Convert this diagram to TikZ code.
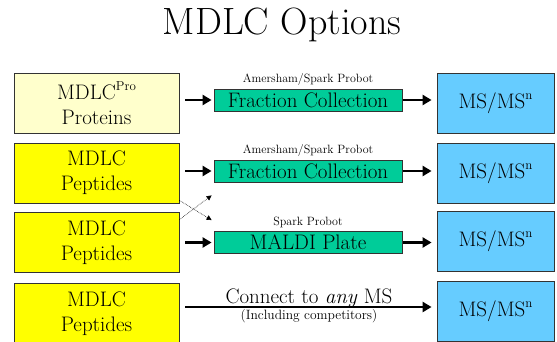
\documentclass[tikz,border=0pt]{standalone}
\usetikzlibrary{arrows.meta}
\definecolor{lightyel}{HTML}{FFFFCC}
\definecolor{yel}{HTML}{FFFF00}
\definecolor{grn}{HTML}{00CC99}
\definecolor{blu}{HTML}{66CCFF}
\newcommand{\mysup}[1]{\raisebox{0.42em}{\fontsize{13}{13}\selectfont #1}}
\begin{document}
\begin{tikzpicture}[x=1pt,y=-1pt,
 src/.style={draw=black!80, line width=0.8pt, minimum width=165pt, minimum height=60pt, align=center, font=\fontsize{21}{25}\selectfont, inner sep=0pt},
 dev/.style={draw=black!80, line width=0.8pt, fill=grn, minimum width=188pt, minimum height=22pt, inner sep=0pt, font=\fontsize{21}{24}\selectfont},
 ms/.style={draw=black!80, line width=0.8pt, fill=blu, minimum width=117pt, minimum height=60pt, inner sep=0pt, font=\fontsize{21}{25}\selectfont},
 lab/.style={font=\fontsize{12}{14}\selectfont, anchor=base, inner sep=0pt},
 bigarrow/.style={line width=2.5pt, -{Triangle[length=9pt,width=10pt]}},
 cross/.style={densely dotted, line width=0.6pt, -{Triangle[length=5pt,width=5pt]}}
]
\useasboundingbox (0,0) rectangle (557,342);

\node[font=\fontsize{38}{42}\selectfont, anchor=base] (title) at (282,35) {MDLC Options};

% sources
\node[src, fill=lightyel] (s1) at (96.5,103) {MDLC\mysup{Pro}\\Proteins};
\node[src, fill=yel] (s2) at (96.5,173) {MDLC\\Peptides};
\node[src, fill=yel] (s3) at (96.5,242.5) {MDLC\\Peptides};
\node[src, fill=yel, minimum height=61pt] (s4) at (96.5,313.5) {MDLC\\Peptides};

% devices
\node[dev] (g1) at (308,100) {Fraction Collection};
\node[dev] (g2) at (308,171) {Fraction Collection};
\node[dev] (g3) at (308,242.5) {MALDI Plate};

\node[lab] (l1) at ([yshift=6pt]g1.north) {Amersham/Spark Probot};
\node[lab] (l2) at ([yshift=6pt]g2.north) {Amersham/Spark Probot};
\node[lab] (l3) at ([yshift=5.5pt]g3.north) {Spark Probot};

% MS
\node[ms] (m1) at (495.5,103) {MS/MS\mysup{n}};
\node[ms] (m2) at (495.5,173) {MS/MS\mysup{n}};
\node[ms] (m3) at (495.5,241.5) {MS/MS\mysup{n}};
\node[ms] (m4) at (495.5,311) {MS/MS\mysup{n}};

% arrows
\draw[bigarrow, shorten <=6pt, shorten >=2pt] (s1.east |- g1.west) -- (g1.west);
\draw[bigarrow, shorten <=6pt, shorten >=2pt] (s2.east |- g2.west) -- (g2.west);
\draw[bigarrow, shorten <=6pt, shorten >=2pt] (s3.east |- g3.west) -- (g3.west);
\draw[bigarrow, shorten <=1pt, shorten >=5pt] (g1.east) -- (m1.west |- g1.east);
\draw[bigarrow, shorten <=1pt, shorten >=5pt] (g2.east) -- (m2.west |- g2.east);
\draw[bigarrow, shorten <=1pt, shorten >=5pt] (g3.east) -- (m3.west |- g3.east);

\coordinate (a4s) at ([xshift=6pt,yshift=6.5pt]s4.east);
\coordinate (a4e) at (m4.west |- a4s);
\draw[bigarrow, shorten >=5pt] (a4s) -- (a4e);
\node[anchor=base, inner sep=0pt, font=\fontsize{21}{25}\selectfont] (c1) at (309,303) {Connect to \textit{any} MS};
\node[anchor=base, inner sep=0pt, font=\fontsize{13.5}{16}\selectfont] (c2) at (309,319) {(Including competitors)};

% crossing dotted arrows
\draw[cross] ([yshift=3pt]s2.south east) -- ([xshift=-2pt,yshift=11pt]g3.north west);
\draw[cross] ([yshift=-7.5pt]s3.north east) -- ([xshift=-2pt,yshift=-13pt]g2.south west);
\end{tikzpicture}
\end{document}
